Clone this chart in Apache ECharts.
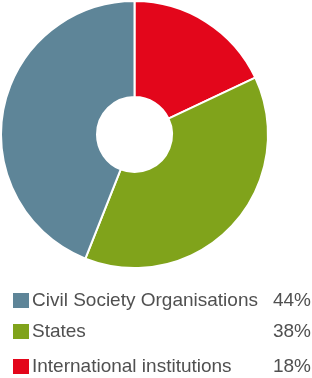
<!DOCTYPE html>
<html>
<head>
<meta charset="utf-8">
<script src="https://cdn.jsdelivr.net/npm/echarts@6/dist/echarts.min.js"></script>
<style>
  html, body { margin: 0; padding: 0; background: #fff; }
  #chart { width: 312px; height: 378px; }
</style>
</head>
<body>
<div id="chart"></div>
<script>
// legend order (top to bottom)
const categories = ['Civil Society Organisations', 'States', 'International institutions']
const shares = [44, 38, 18]
const colors = ['#5e8598', '#80a31b', '#e3061b']

// pie is drawn clockwise from 12 o'clock starting with the smallest slice
const pieOrder = [2, 1, 0]

const legendTops = [291, 322, 357]

const chart = echarts.init(document.getElementById('chart'))

const legends = categories.map((name, i) => ({
  top: legendTops[i],
  left: 11,
  padding: 0,
  orient: 'vertical',
  data: [name],
  selectedMode: false,
  icon: 'rect',
  itemWidth: 18,
  itemHeight: 17,
  itemGap: 0,
  formatter: (n) => '{n|' + n + '}{p|' + shares[categories.indexOf(n)] + '%}',
  textStyle: {
    padding: [0, 0, 0, -3],
    rich: {
      n: { fontFamily: 'Liberation Sans', fontSize: 19, color: '#505050', width: 240 },
      p: { fontFamily: 'Liberation Sans', fontSize: 19, color: '#505050', width: 39, align: 'right' }
    }
  }
}))

chart.setOption({
  animation: false,
  color: colors,
  legend: legends,
  series: [{
    type: 'pie',
    center: [134.5, 134.5],
    radius: [37.5, 133.5],
    startAngle: 90,
    clockwise: true,
    label: { show: false },
    labelLine: { show: false },
    itemStyle: { borderColor: '#fff', borderWidth: 2 },
    data: pieOrder.map((i) => ({
      name: categories[i],
      value: shares[i],
      itemStyle: { color: colors[i] }
    }))
  }]
})
</script>
</body>
</html>
